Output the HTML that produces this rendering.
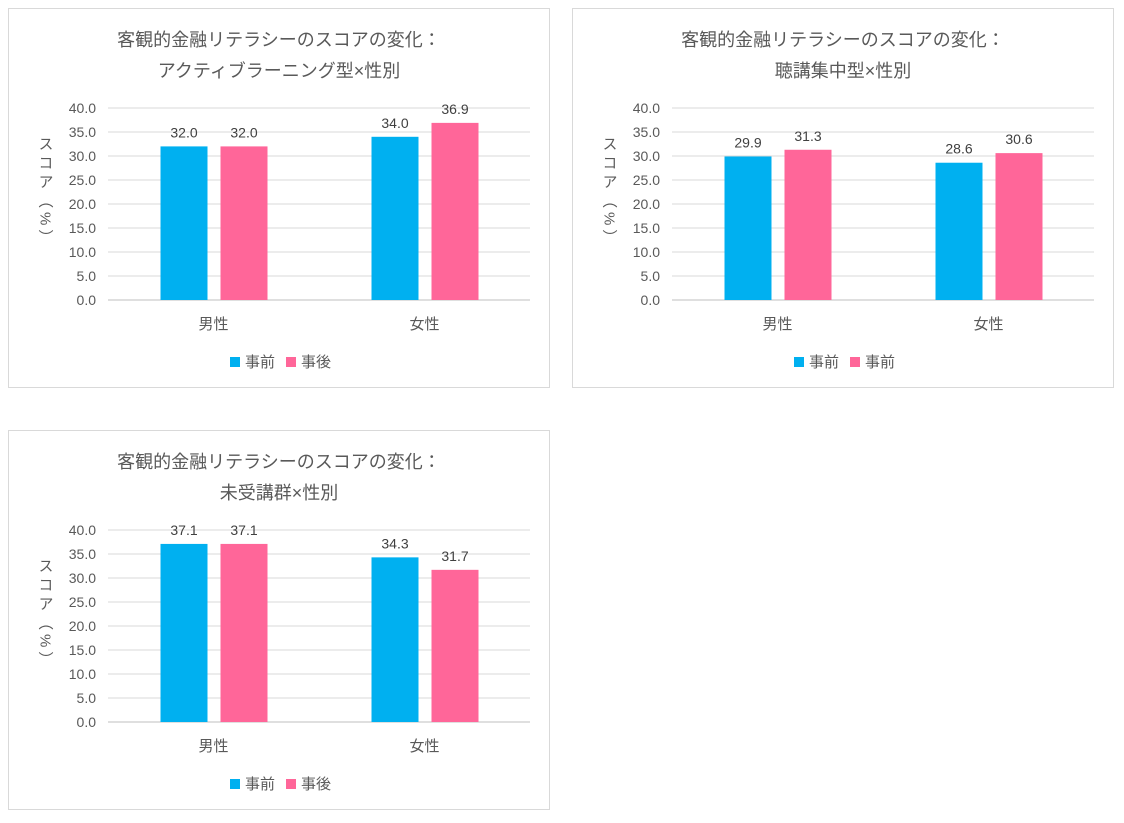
<!DOCTYPE html>
<html><head><meta charset="utf-8"><style>
body{margin:0;background:#fff;width:1124px;height:818px;overflow:hidden;font-family:"Liberation Sans","Noto Sans CJK JP",sans-serif}
svg text{font-family:"Liberation Sans","Noto Sans CJK JP",sans-serif}
</style></head><body>
<svg id="s" width="1124" height="818"></svg>
<script>
const categories=["男性","女性"];
const chart1Before=[32.0,34.0];
const chart1After=[32.0,36.9];
const chart2Before=[29.9,28.6];
const chart2After=[31.3,30.6];
const chart3Before=[37.1,34.3];
const chart3After=[37.1,31.7];
const tickLabels=["0.0","5.0","10.0","15.0","20.0","25.0","30.0","35.0","40.0"];
const tickValues=[0,5,10,15,20,25,30,35,40];
const titles=[["客観的金融リテラシーのスコアの変化：","アクティブラーニング型×性別"],["客観的金融リテラシーのスコアの変化：","聴講集中型×性別"],["客観的金融リテラシーのスコアの変化：","未受講群×性別"]];
const legends=[["事前","事後"],["事前","事前"],["事前","事後"]];
const charts=[{x:8,y:8,b:chart1Before,a:chart1After},{x:572,y:8,b:chart2Before,a:chart2After},{x:8,y:430,b:chart3Before,a:chart3After}];
const NS="http://www.w3.org/2000/svg",svg=document.getElementById('s');
function mk(t,at,p,txt){const e=document.createElementNS(NS,t);for(const k in at)e.setAttribute(k,at[k]);if(txt!=null)e.textContent=txt;p.appendChild(e);return e;}
charts.forEach((c,i)=>{
 const g=mk('g',{transform:`translate(${c.x},${c.y})`},svg);
 
 
 const fr=mk('rect',{x:0.5,y:0.5,width:541,height:379,fill:'#fff',stroke:'#d9d9d9'},g);
 
 titles[i].forEach((t,j)=>{const e=mk('text',{x:271,y:38+j*31,'text-anchor':'middle','font-size':18,fill:'#595959'},g,t);
  });
 const x0=100,x1=522,yb=292,ppu=4.8;
 const Y=v=>yb-v*ppu;
 tickValues.forEach((v,k)=>{
  const l=mk('line',{x1:x0,x2:x1,y1:Y(v),y2:Y(v),stroke:v===0?'#bfbfbf':'#d9d9d9'},g);
  
  const t=mk('text',{x:88,y:Y(v)+5,'text-anchor':'end','font-size':14,fill:'#595959'},g,tickLabels[k]);
  
 });
 const yt=mk('text',{x:37,y:128,'font-size':15,fill:'#595959','writing-mode':'tb','letter-spacing':4},g,"スコア（%）");
 
 const bw=211;
 categories.forEach((cat,k)=>{
  const cx=x0+bw*k+bw/2;
  [[c.b[k],'#00b0f0',-53],[c.a[k],'#ff6699',7]].forEach(([v,col,off],m)=>{
   const r=mk('rect',{x:cx+off,y:Y(v),width:47,height:v*ppu,fill:col},g);
   
   const lt=mk('text',{x:cx+off+23.5,y:Y(v)-9,'text-anchor':'middle','font-size':14,fill:'#404040'},g,v.toFixed(1));
   
  });
  const ct=mk('text',{x:cx,y:yb+29,'text-anchor':'middle','font-size':15,fill:'#595959'},g,cat);
  
 });
 [['#00b0f0',222],['#ff6699',278]].forEach(([col,lx],m)=>{
  const r=mk('rect',{x:lx,y:349,width:10,height:10,fill:col},g);
  
  const t=mk('text',{x:lx+15,y:359,'font-size':15,fill:'#595959'},g,legends[i][m]);
  
 });
});
</script>
</body></html>
